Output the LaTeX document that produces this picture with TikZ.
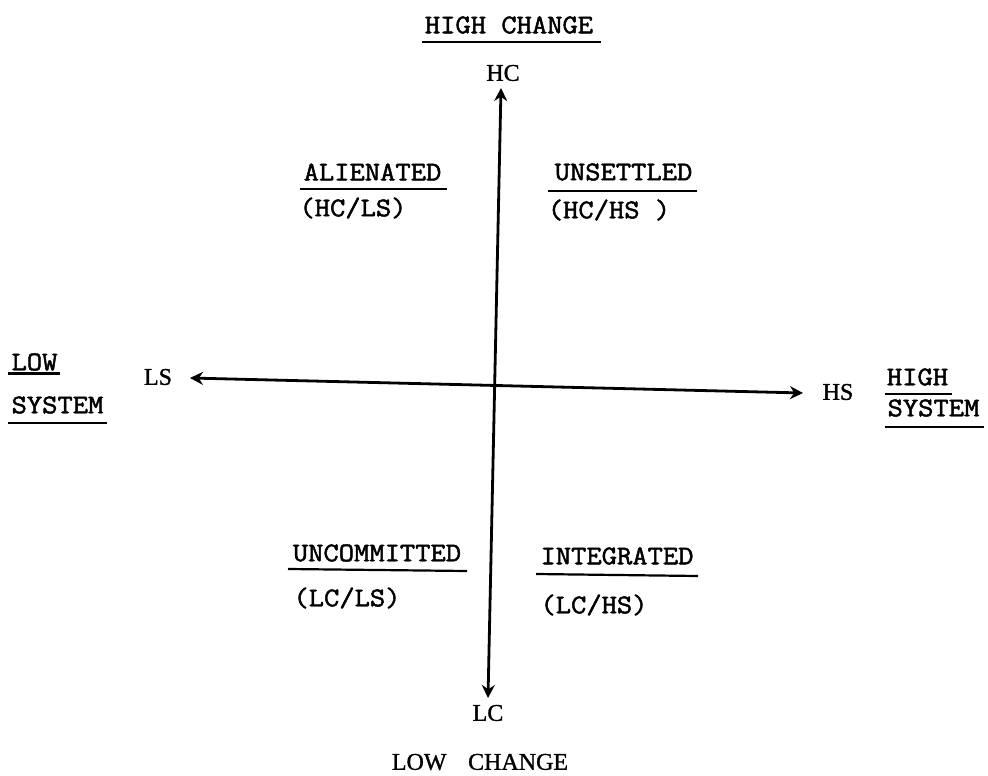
\documentclass[tikz,border=0pt]{standalone}
\usepackage{fontspec}
\setmainfont{Liberation Serif}
\newfontfamily\typew[FakeBold=1.8,FakeStretch=1.1]{Latin Modern Mono}
\newfontfamily\labfont[FakeBold=1.2]{Liberation Serif}
\usetikzlibrary{arrows.meta}
\tikzset{
  tw/.style={font=\typew\fontsize{27}{27}\selectfont, inner sep=0pt, anchor=center},
  lab/.style={font=\labfont\fontsize{24}{24}\selectfont, inner sep=0pt, anchor=center},
  axis/.style={line width=2.8pt, {Stealth[length=13pt,width=13pt]}-{Stealth[length=13pt,width=13pt]}},
  ul/.style={line width=2.2pt}
}
\begin{document}
\begin{tikzpicture}[x=1pt,y=-1pt]
\useasboundingbox (0,0) rectangle (988,776);
% axis end labels
\node[lab] (HC) at (503,73) {HC};
\node[lab] (LC) at (488,713) {LC};
\node[lab] (LS) at (158,377) {LS};
\node[lab] (HS) at (838,392) {HS};
\coordinate (hcTip) at (501,88);
\coordinate (lcTip) at (488,698);
\coordinate (lsTip) at (190,378);
\coordinate (hsTip) at (803,393);
\draw[axis] (lcTip) -- (hcTip);
\draw[axis] (lsTip) -- (hsTip);
% titles
\node[tw] (highchange) at (509,25) {HIGH CHANGE};
\draw[ul] (422,42) -- (601,42);
\node[lab] (lowchange) at (480,762) {LOW\hspace{0.9em}CHANGE};
\node[tw] (low) at (34.5,362) {LOW};
\draw[ul] (8,373.5) -- (60,373.5);
\node[tw] (lsys) at (57.5,405) {SYSTEM};
\draw[ul] (8,423) -- (107,423);
\node[tw] (high) at (917.5,377) {HIGH};
\draw[ul] (885,394) -- (952,394);
\node[tw] (hsys) at (933.5,408) {SYSTEM};
\draw[ul] (885,427) -- (984,427);
% quadrants
\node[tw] (alien) at (372.5,172) {ALIENATED};
\draw[ul] (300,189) -- (447,189);
\node[tw] (alienc) at (353,208) {(HC/LS)};
\node[tw] (unset) at (623.5,172) {UNSETTLED};
\draw[ul] (548,191) -- (697,191);
\node[tw] (unsetc) at (609,210) {(HC/HS )};
\node[tw] (uncom) at (377,553) {UNCOMMITTED};
\draw[ul] (288,569) -- (467,571);
\node[tw] (uncomc) at (347,598) {(LC/LS)};
\node[tw] (integ) at (617,556) {INTEGRATED};
\draw[ul] (536,574) -- (698,576);
\node[tw] (integc) at (594,605) {(LC/HS)};
\end{tikzpicture}
\end{document}
